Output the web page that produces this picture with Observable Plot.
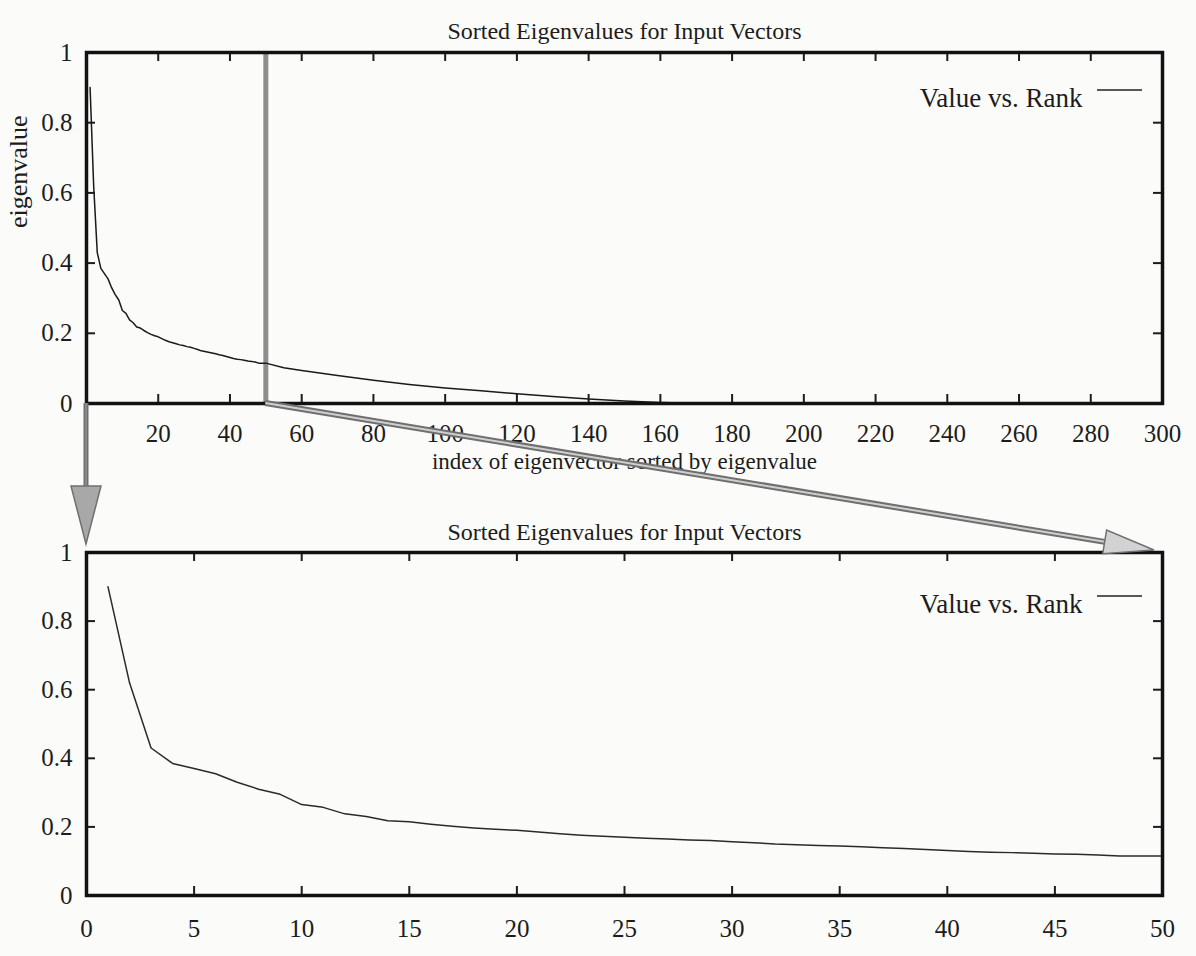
<!DOCTYPE html>
<html><head><meta charset="utf-8">
<script src="https://cdn.jsdelivr.net/npm/d3@7"></script>
<script src="https://cdn.jsdelivr.net/npm/@observablehq/plot@0.6"></script>
<style>
body{margin:0;background:#fbfcfa;}
#wrap{position:relative;width:1196px;height:956px;overflow:hidden;background:#fbfcfa;}
#wrap svg{display:block;}
#overlay{position:absolute;left:0;top:0;pointer-events:none;}
</style></head><body><div id="wrap"></div>
<script>
// ---- text ----
const chartTitle = "Sorted Eigenvalues for Input Vectors";
const legendLabel = "Value vs. Rank";
const xLabelTop = "index of eigenvector sorted by eigenvalue";
const yLabelTop = "eigenvalue";

// ---- ticks ----
const yTicks = [0, 0.2, 0.4, 0.6, 0.8, 1];
const xTicksTop = [20, 40, 60, 80, 100, 120, 140, 160, 180, 200, 220, 240, 260, 280, 300];
const xTicksBottom = [0, 5, 10, 15, 20, 25, 30, 35, 40, 45, 50];
const xDomainTop = [0, 300];
const xDomainBottom = [0, 50];
const zoomFrom = 0, zoomTo = 50;

// ---- data: first 50 ranks (read from the lower, zoomed chart) ----
const ranksHead = [1,2,3,4,5,6,7,8,9,10,11,12,13,14,15,16,17,18,19,20,21,22,23,24,25,
                   26,27,28,29,30,31,32,33,34,35,36,37,38,39,40,41,42,43,44,45,46,47,48,49,50];
const valuesHead = [0.90,0.62,0.43,0.385,0.37,0.355,0.33,0.31,0.295,0.265,
                    0.257,0.238,0.23,0.218,0.215,0.208,0.202,0.197,0.193,0.19,
                    0.185,0.18,0.176,0.173,0.17,0.167,0.165,0.162,0.16,0.157,
                    0.154,0.15,0.148,0.146,0.144,0.142,0.139,0.137,0.134,0.131,
                    0.128,0.126,0.125,0.123,0.121,0.12,0.118,0.115,0.115,0.115];
// ---- data: remaining ranks ----
const ranksTail = [55,60,70,80,90,100,110,120,130,140,150,160,170,180,200,220,240,260,280,300];
const valuesTail = [0.102,0.094,0.08,0.066,0.054,0.044,0.036,0.028,0.02,0.013,0.007,0.003,0.001,0,0,0,0,0,0,0];

const head = ranksHead.map((r, i) => ({rank: r, value: valuesHead[i]}));
const all = head.concat(ranksTail.map((r, i) => ({rank: r, value: valuesTail[i]})));

const W = 1196;
const font = "Liberation Serif";
const fs = 25;
const ink = "#1c1c1c";

function inwardTicks(xt, yt, fw, fh) {
  const inner = yt.filter(d => d > 0 && d < 1);
  return [
    Plot.tickX(xt, {x: d => d, insetTop: fh - 9, stroke: ink, strokeWidth: 2}),
    Plot.tickX(xt, {x: d => d, insetBottom: fh - 9, stroke: ink, strokeWidth: 2}),
    Plot.tickY(inner, {y: d => d, insetRight: fw - 9, stroke: ink, strokeWidth: 2}),
    Plot.tickY(inner, {y: d => d, insetLeft: fw - 9, stroke: ink, strokeWidth: 2})
  ];
}

// ---- upper chart ----
const m1 = {top: 52, bottom: 77, left: 86, right: 34};
const H1 = 480;
const p1 = Plot.plot({
  width: W, height: H1,
  marginTop: m1.top, marginBottom: m1.bottom, marginLeft: m1.left, marginRight: m1.right,
  style: {fontFamily: font, fontSize: fs + "px", background: "transparent", color: ink},
  x: {domain: xDomainTop},
  y: {domain: [0, 1]},
  marks: [
    ...inwardTicks(xTicksTop, yTicks, W - m1.left - m1.right, H1 - m1.top - m1.bottom),
    Plot.ruleX([zoomTo], {stroke: "#8e8e8e", strokeWidth: 5}),
    Plot.line(all, {x: "rank", y: "value", stroke: "#1a1a1a", strokeWidth: 1.5}),
    Plot.frame({stroke: "#111", strokeWidth: 3.5}),
    Plot.axisX(xTicksTop, {tickSize: 0, tickPadding: 21, label: null, fontSize: fs}),
    Plot.axisY(yTicks, {tickSize: 0, tickPadding: 14, label: null, fontSize: fs, tickFormat: d => String(d)}),
    Plot.text([chartTitle], {text: d => d, frameAnchor: "top", dy: -31, fontSize: 24}),
    Plot.text([xLabelTop], {text: d => d, frameAnchor: "bottom", dy: 65, fontSize: 23}),
    Plot.text([yLabelTop], {text: d => d, frameAnchor: "left", dx: -68, rotate: -90, fontSize: 26}),
    Plot.text([legendLabel], {text: d => d, frameAnchor: "top-right", dx: -80, dy: 35, textAnchor: "end", fontSize: 27})
  ]
});

// ---- lower chart ----
const m2 = {top: 72, bottom: 61, left: 86, right: 34};
const H2 = 476;
const p2 = Plot.plot({
  width: W, height: H2,
  marginTop: m2.top, marginBottom: m2.bottom, marginLeft: m2.left, marginRight: m2.right,
  style: {fontFamily: font, fontSize: fs + "px", background: "transparent", color: ink},
  x: {domain: xDomainBottom},
  y: {domain: [0, 1]},
  marks: [
    ...inwardTicks(xTicksBottom, yTicks, W - m2.left - m2.right, H2 - m2.top - m2.bottom),
    Plot.line(head, {x: "rank", y: "value", stroke: "#2a2a2a", strokeWidth: 1.5}),
    Plot.frame({stroke: "#111", strokeWidth: 3.5}),
    Plot.axisX(xTicksBottom, {tickSize: 0, tickPadding: 24, label: null, fontSize: fs}),
    Plot.axisY(yTicks, {tickSize: 0, tickPadding: 14, label: null, fontSize: fs, tickFormat: d => String(d)}),
    Plot.text([chartTitle], {text: d => d, frameAnchor: "top", dy: -30, fontSize: 24}),
    Plot.text([legendLabel], {text: d => d, frameAnchor: "top-right", dx: -80, dy: 41, textAnchor: "end", fontSize: 27})
  ]
});

const wrap = document.getElementById("wrap");
wrap.append(p1, p2);

// ---- overlay: legend keys and zoom arrows, positioned from the charts' scales ----
const sx1 = p1.scale("x"), sy1 = p1.scale("y"), sx2 = p2.scale("x"), sy2 = p2.scale("y");
const ov = d3.select(wrap).append("svg").attr("id", "overlay").attr("width", W).attr("height", H1 + H2);

function legendKey(sx, sy, off, dy) {
  const xr = sx.range[1], yt = sy.range[1] + off;
  ov.append("line").attr("x1", xr - 65).attr("x2", xr - 20)
    .attr("y1", yt + dy).attr("y2", yt + dy).attr("stroke", "#222").attr("stroke-width", 1.5);
}
legendKey(sx1, sy1, 0, 38);
legendKey(sx2, sy2, H1, 44);

function arrow(x1, y1, x2, y2, headLen, headW, shaftW, solid) {
  const a = Math.atan2(y2 - y1, x2 - x1);
  const bx = x2 - headLen * Math.cos(a), by = y2 - headLen * Math.sin(a);
  const nx = -Math.sin(a), ny = Math.cos(a);
  ov.append("line").attr("x1", x1).attr("y1", y1).attr("x2", bx).attr("y2", by)
    .attr("stroke", "#6f6f6f").attr("stroke-width", shaftW + 2);
  ov.append("line").attr("x1", x1).attr("y1", y1).attr("x2", bx).attr("y2", by)
    .attr("stroke", solid ? "#a2a2a2" : "#cfcfcf").attr("stroke-width", Math.max(1, shaftW - 2));
  const pts = [[x2, y2], [bx + nx * headW, by + ny * headW], [bx - nx * headW, by - ny * headW]];
  ov.append("polygon").attr("points", pts.map(p => p.join(",")).join(" "))
    .attr("fill", solid ? "#a8a8a8" : "#d2d2d2").attr("stroke", "#707070").attr("stroke-width", 1.5);
}
arrow(sx1.apply(zoomFrom), sy1.apply(0), sx2.apply(zoomFrom), H1 + sy2.apply(1) - 8, 58, 15, 3, true);
arrow(sx1.apply(zoomTo), sy1.apply(0), sx2.apply(zoomTo) - 8, H1 + sy2.apply(1) - 2, 50, 12, 4, false);
</script>
</body></html>
